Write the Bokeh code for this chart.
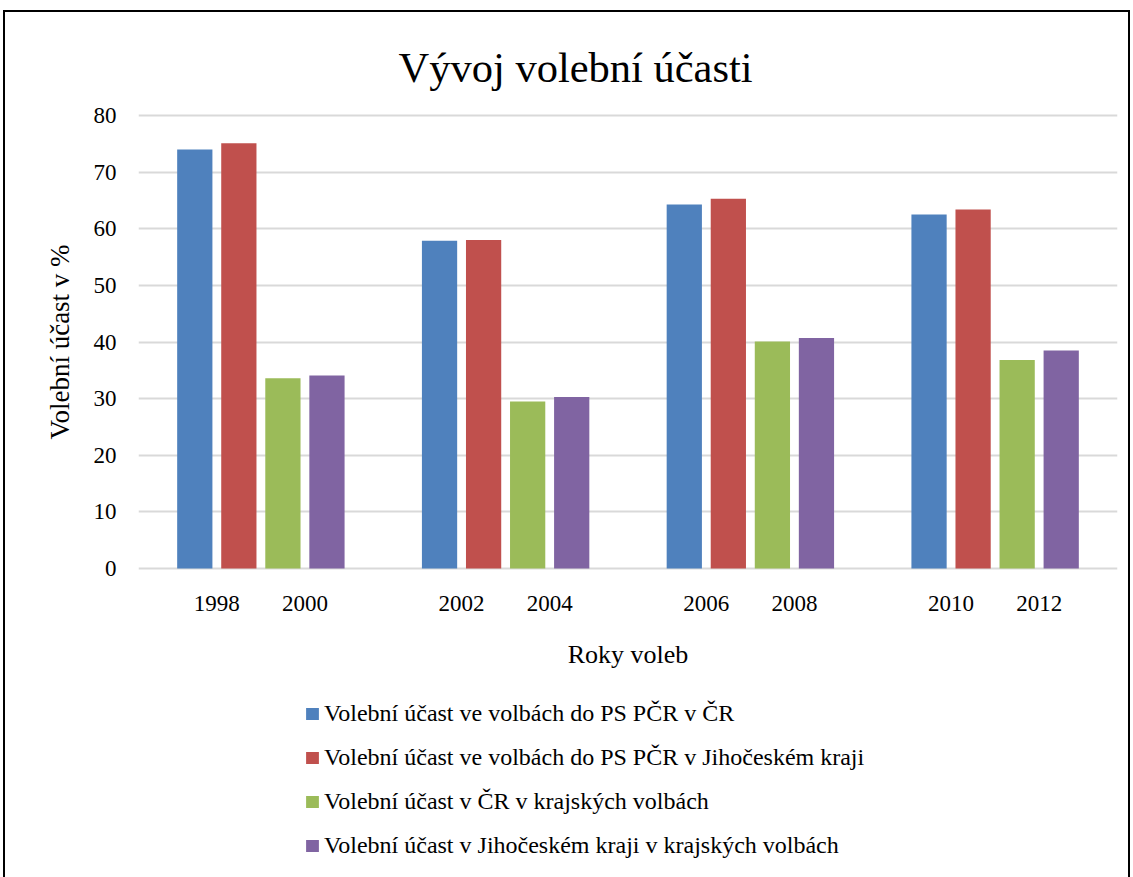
from bokeh.plotting import figure
from bokeh.layouts import column
from bokeh.models import ColumnDataSource, FixedTicker, Legend, LegendItem, Range1d
from bokeh.embed import file_html
from bokeh.resources import INLINE

# ---- data ----
years = ["1998", "2000", "2002", "2004", "2006", "2008", "2010", "2012"]
ps_cr = [74.0, 57.9, 64.3, 62.5]          # PS PČR elections, ČR (1998, 2002, 2006, 2010)
ps_jc = [75.1, 58.0, 65.3, 63.4]          # PS PČR elections, Jihočeský kraj
kraj_cr = [33.6, 29.5, 40.1, 36.8]        # regional elections, ČR (2000, 2004, 2008, 2012)
kraj_jc = [34.1, 30.3, 40.7, 38.5]        # regional elections, Jihočeský kraj
series_names = [
    "Volební účast ve volbách do PS PČR v ČR",
    "Volební účast ve volbách do PS PČR v Jihočeském kraji",
    "Volební účast v ČR v krajských volbách",
    "Volební účast v Jihočeském kraji v krajských volbách",
]
colors = ["#4F81BD", "#C0504D", "#9BBB59", "#8064A2"]

FONT = "Liberation Serif"
GROUP = 100          # x units per group
PITCH = 18           # distance between bar centres
BAR_W = 14.4
centers = [GROUP * i + GROUP / 2 for i in range(len(ps_cr))]
offsets = [-1.5 * PITCH, -0.5 * PITCH, 0.5 * PITCH, 1.5 * PITCH]

p = figure(width=1127, height=670, output_backend="svg", toolbar_location=None,
           x_range=Range1d(0, GROUP * len(ps_cr)), y_range=Range1d(-0.35, 80.35),
           min_border_left=133, min_border_right=15, min_border_top=101,
           min_border_bottom=112)
p.styles = {"border-top": "2px solid black", "border-left": "2px solid black",
            "border-right": "2px solid black"}
p.outline_line_color = None
p.background_fill_color = "white"
p.border_fill_color = "white"

renderers = []
for vals, off, col in zip([ps_cr, ps_jc, kraj_cr, kraj_jc], offsets, colors):
    src = ColumnDataSource(dict(x=[c + off for c in centers], top=vals))
    r = p.vbar(x="x", top="top", width=BAR_W, bottom=0, source=src,
               fill_color=col, line_color=None)
    renderers.append(r)

# title
p.title.text = "Vývoj volební účasti"
p.title.text_font = FONT
p.title.text_font_size = "42.5px"
p.title.text_font_style = "normal"
p.title.align = "left"
p.title.offset = 260
p.title.standoff = 45
p.title.text_color = "black"

# axes
tick_pos = []
for c in centers:
    tick_pos += [int(c - PITCH), int(c + PITCH)]
p.xaxis.ticker = FixedTicker(ticks=tick_pos)
p.xaxis.major_label_overrides = {t: y for t, y in zip(tick_pos, years)}
p.xaxis.axis_label = "Roky voleb"
p.yaxis.axis_label = "Volební účast v %"
p.yaxis.ticker = FixedTicker(ticks=list(range(0, 81, 10)))
for ax in (p.xaxis[0], p.yaxis[0]):
    ax.axis_line_color = None
    ax.major_tick_line_color = None
    ax.minor_tick_line_color = None
    ax.major_tick_out = 0
    ax.major_tick_in = 0
    ax.minor_tick_out = 0
    ax.major_label_text_font = FONT
    ax.major_label_text_font_size = "23px"
    ax.major_label_text_color = "black"
    ax.axis_label_text_font = FONT
    ax.axis_label_text_font_style = "normal"
    ax.axis_label_text_color = "black"
p.xaxis.axis_label_text_font_size = "26px"
p.yaxis.axis_label_text_font_size = "27px"
p.xaxis.major_label_standoff = 25
p.xaxis.axis_label_standoff = 26
p.yaxis.major_label_standoff = 22
p.yaxis.axis_label_standoff = 16

p.xgrid.grid_line_color = None
p.ygrid.grid_line_color = "#D9D9D9"
p.ygrid.grid_line_width = 2

# legend panel below the chart (zero-height proxy renderers only feed the legend)
p2 = figure(width=1127, height=200, output_backend="svg", toolbar_location=None,
            x_range=Range1d(0, 1), y_range=Range1d(0, 1),
            x_axis_location=None, y_axis_location=None,
            min_border_left=0, min_border_right=0, min_border_top=0, min_border_bottom=0)
p2.styles = {"border-left": "2px solid black", "border-right": "2px solid black"}
p2.outline_line_color = None
p2.xgrid.visible = False
p2.ygrid.visible = False
p2.background_fill_color = "white"
p2.border_fill_color = "white"
leg_renderers = []
for col in colors:
    leg_renderers.append(p2.vbar(x=[0.5], top=[0], bottom=0, width=0.01,
                                 fill_color=col, line_color=None))

legend = Legend(items=[LegendItem(label=n, renderers=[r]) for n, r in zip(series_names, leg_renderers)],
                location=(166, 21), orientation="vertical")
legend.label_text_font = FONT
legend.label_text_font_size = "24px"
legend.label_text_color = "black"
legend.glyph_width = 16
legend.glyph_height = 15
legend.label_standoff = 4
legend.label_height = 28
legend.spacing = 16
legend.border_line_color = None
legend.background_fill_alpha = 0
legend.padding = 0
legend.margin = 0
p2.add_layout(legend)

layout = column(p, p2, spacing=0)
layout.styles = {"margin-left": "3px", "margin-top": "10px"}

open("out.html", "w").write(file_html(layout, INLINE))
